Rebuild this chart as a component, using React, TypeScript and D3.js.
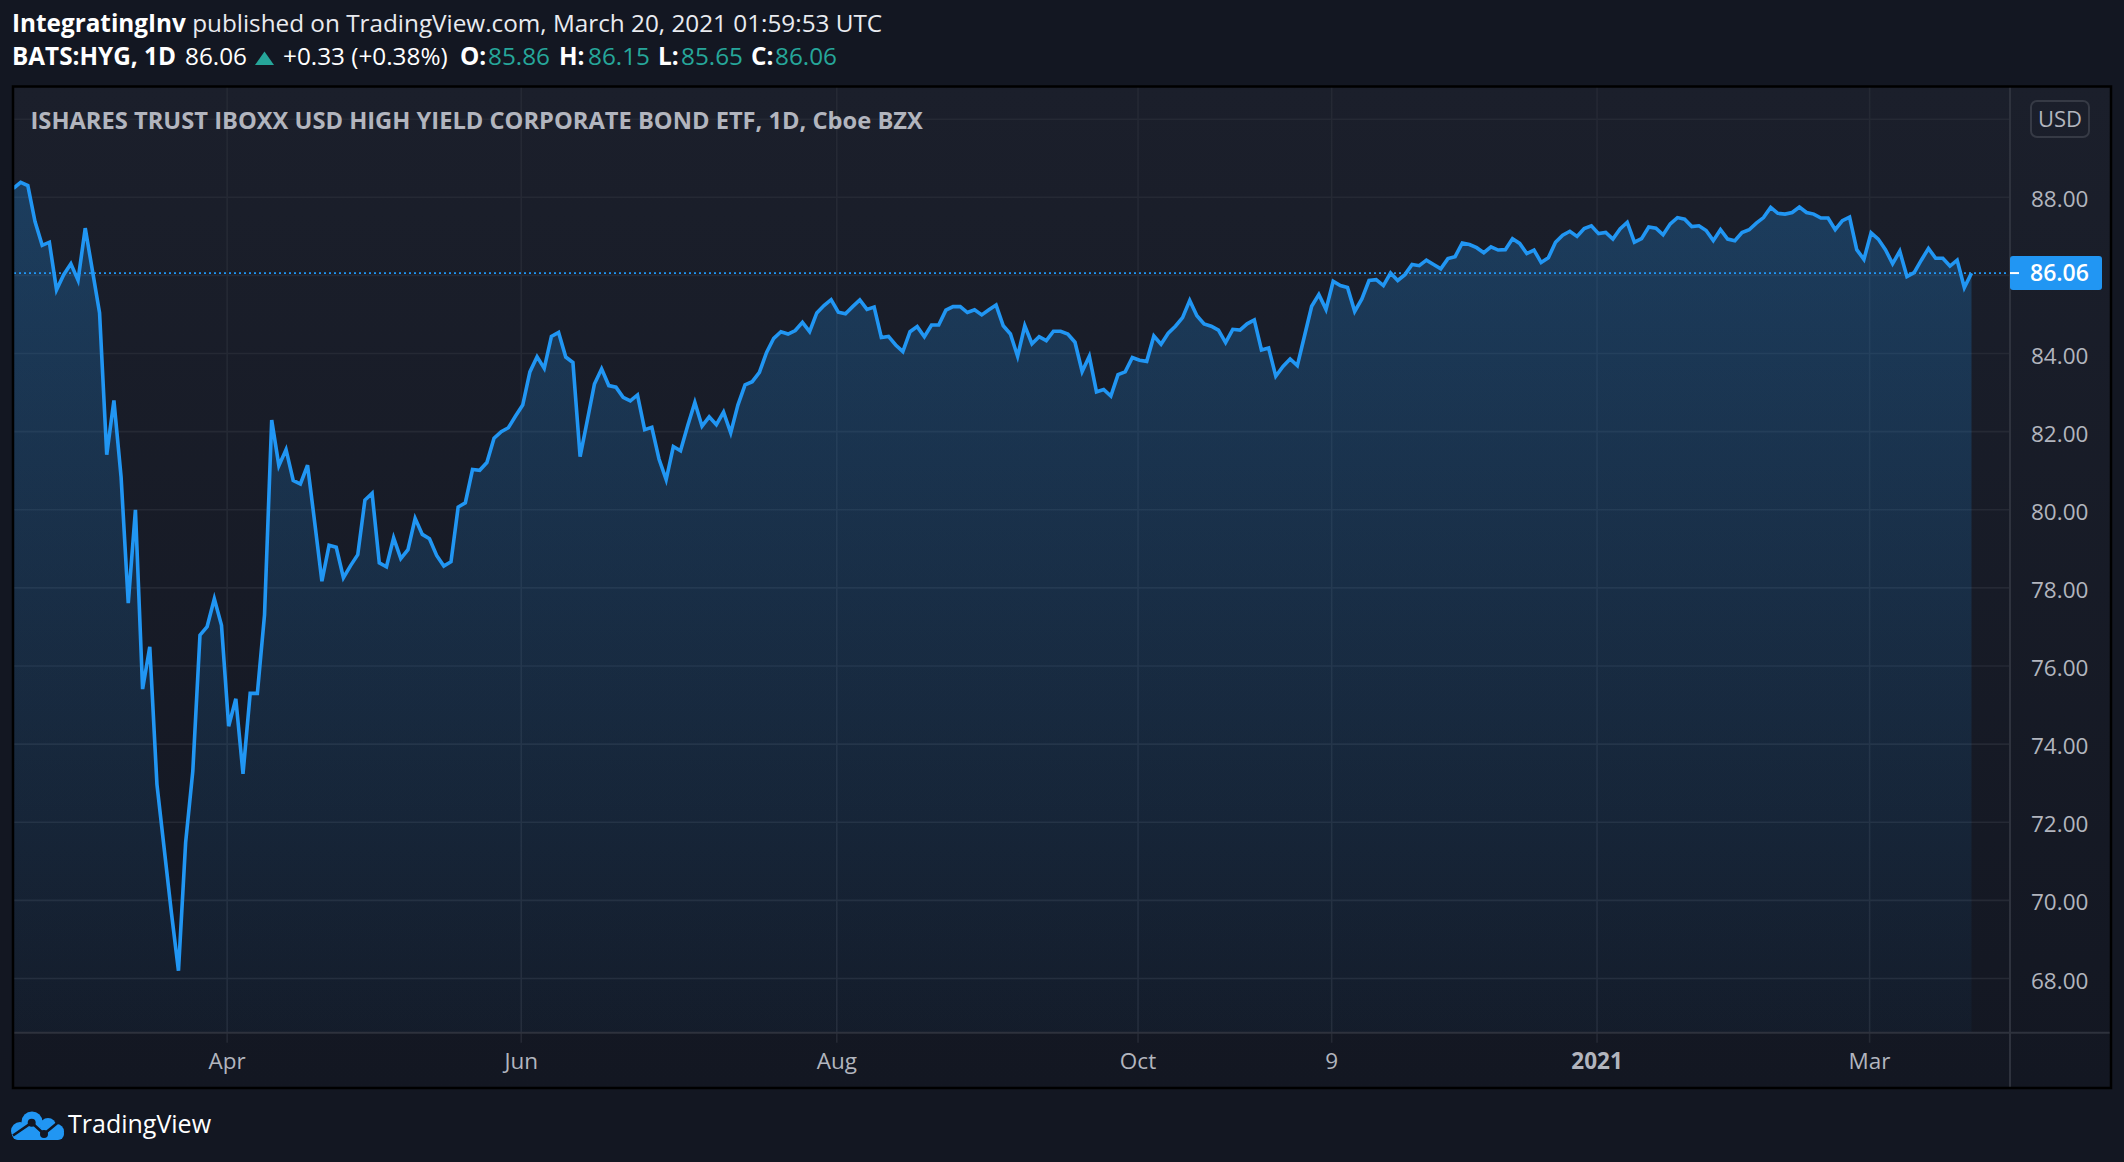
import React from "react";
import * as d3 from "d3";

const W = 2124;
const H = 1162;

// HYG daily closes, Feb 19 2020 .. Mar 19 2021 (trading-day index)
const closes: number[] = [
  88.23, 88.38, 88.30, 87.38, 86.77, 86.85, 85.63, 86.02, 86.30, 85.88,
  87.21, 86.13, 85.04, 81.41, 82.80, 80.84, 77.61, 80.00, 75.41, 76.49,
  72.97, 71.34, 69.71, 68.20, 71.48, 73.31, 76.79, 77.01, 77.72, 77.04,
  74.46, 75.16, 73.24, 75.30, 75.30, 77.31, 82.30, 81.13, 81.54, 80.75,
  80.66, 81.14, 79.67, 78.17, 79.09, 79.04, 78.26, 78.57, 78.85, 80.25,
  80.42, 78.64, 78.54, 79.28, 78.75, 78.98, 79.78, 79.37, 79.26, 78.83,
  78.56, 78.67, 80.07, 80.18, 81.03, 81.01, 81.21, 81.83, 82.00, 82.10,
  82.40, 82.68, 83.53, 83.92, 83.62, 84.44, 84.54, 83.91, 83.77, 81.36,
  82.28, 83.22, 83.61, 83.18, 83.14, 82.88, 82.79, 82.94, 82.05, 82.11,
  81.30, 80.77, 81.62, 81.51, 82.15, 82.75, 82.14, 82.38, 82.18, 82.50,
  81.97, 82.68, 83.20, 83.28, 83.52, 84.03, 84.39, 84.56, 84.50, 84.59,
  84.80, 84.56, 85.04, 85.23, 85.38, 85.06, 85.02, 85.20, 85.37, 85.13,
  85.19, 84.41, 84.44, 84.22, 84.05, 84.56, 84.69, 84.43, 84.73, 84.73,
  85.11, 85.20, 85.20, 85.05, 85.12, 84.99, 85.12, 85.24, 84.71, 84.50,
  83.93, 84.71, 84.25, 84.43, 84.33, 84.57, 84.57, 84.50, 84.29, 83.54,
  83.93, 83.02, 83.08, 82.91, 83.46, 83.53, 83.90, 83.83, 83.80, 84.45,
  84.24, 84.52, 84.70, 84.92, 85.36, 84.97, 84.76, 84.70, 84.60, 84.28,
  84.62, 84.60, 84.76, 84.86, 84.09, 84.14, 83.42, 83.67, 83.86, 83.69,
  84.45, 85.21, 85.51, 85.13, 85.85, 85.74, 85.69, 85.08, 85.40, 85.87,
  85.89, 85.74, 86.06, 85.87, 86.02, 86.28, 86.25, 86.39, 86.28, 86.17,
  86.43, 86.48, 86.83, 86.79, 86.71, 86.58, 86.73, 86.65, 86.66, 86.94,
  86.82, 86.56, 86.65, 86.33, 86.45, 86.85, 87.03, 87.13, 87.00, 87.20,
  87.27, 87.07, 87.10, 86.93, 87.19, 87.36, 86.85, 86.94, 87.24, 87.21,
  87.04, 87.32, 87.48, 87.44, 87.25, 87.27, 87.15, 86.89, 87.17, 86.93,
  86.89, 87.10, 87.17, 87.34, 87.48, 87.74, 87.59, 87.57, 87.61, 87.75,
  87.61, 87.57, 87.47, 87.47, 87.17, 87.40, 87.49, 86.66, 86.41, 87.09,
  86.93, 86.66, 86.30, 86.62, 85.97, 86.07, 86.39, 86.69, 86.44, 86.44,
  86.24, 86.39, 85.69, 86.06,
];

const timeTickLabels = ["Apr", "Jun", "Aug", "Oct", "9", "2021", "Mar"];
const timeTickIndex = [30, 71, 115, 157, 184, 221, 259];
const timeTickBold = [false, false, false, false, false, true, false];

const priceLabels = [68, 70, 72, 74, 76, 78, 80, 82, 84, 88];
const priceGrid = [68, 70, 72, 74, 76, 78, 80, 82, 84, 86, 88, 90];

const lastPrice = 86.06;
const headerAuthor = "IntegratingInv";
const headerRest = " published on TradingView.com, March 20, 2021 01:59:53 UTC";
const symbolLabel = "BATS:HYG, 1D";
const ohlcKeys = ["O:", "H:", "L:", "C:"];
const ohlcVals = ["85.86", "86.15", "85.65", "86.06"];
const changeText = "+0.33 (+0.38%)";
const titleText = "ISHARES TRUST IBOXX USD HIGH YIELD CORPORATE BOND ETF, 1D, Cboe BZX";

const FONT = "'Open Sans', 'DejaVu Sans', sans-serif";
const BLUE = "#2196f3";
const TEAL = "#26a69a";

// header layout (x of each piece on the second line)
const ohlcKeyX = [460, 559, 658, 751];
const ohlcValX = [488, 588, 681, 775];

export default function App() {
  const paneL = 13, paneR = 2111, paneT = 86.5, paneB = 1088;
  const plotR = 2010;
  const plotB = 1032.7;

  const x = d3.scaleLinear().domain([0, closes.length - 1]).range([13.5, 1971.5]);
  const y = d3.scaleLinear().domain([68, 88]).range([978.5, 197.3]);

  const line = d3
    .line<number>()
    .x((_, i) => x(i))
    .y((d) => y(d));
  const area = d3
    .area<number>()
    .x((_, i) => x(i))
    .y0(plotB)
    .y1((d) => y(d));

  const HF = 24.3;

  return (
    <svg
      width={W}
      height={H}
      viewBox={`0 0 ${W} ${H}`}
      style={{ position: "absolute", left: 0, top: 0, display: "block" }}
      fontFamily={FONT}
    >
      <defs>
        <linearGradient id="paneBg" x1="0" y1="0" x2="0" y2="1">
          <stop offset="0" stopColor="#1b1f2b" />
          <stop offset="1" stopColor="#131722" />
        </linearGradient>
        <linearGradient id="areaFill" gradientUnits="userSpaceOnUse" x1="0" y1="140" x2="0" y2={plotB}>
          <stop offset="0" stopColor={BLUE} stopOpacity="0.27" />
          <stop offset="1" stopColor={BLUE} stopOpacity="0.04" />
        </linearGradient>
        <clipPath id="plotClip">
          <rect x={paneL + 1} y={paneT + 1} width={plotR - paneL - 1} height={plotB - paneT - 1} />
        </clipPath>
      </defs>

      <rect x={0} y={0} width={W} height={H} fill="#131722" />

      {/* header */}
      <text x={12} y={31.5} fontSize={HF} fill="#e9ebf0">
        <tspan fontWeight={700} fill="#ffffff">{headerAuthor}</tspan>
        <tspan>{headerRest}</tspan>
      </text>
      <g fontSize={HF} fill="#ffffff">
        <text x={12} y={65} fontWeight={700}>{symbolLabel}</text>
        <text x={185} y={65}>{lastPrice.toFixed(2)}</text>
        <path d="M255,65 L274,65 L264.5,51.5 Z" fill={TEAL} />
        <text x={283} y={65}>{changeText}</text>
        {ohlcKeys.map((k, i) => (
          <React.Fragment key={k}>
            <text x={ohlcKeyX[i]} y={65} fontWeight={700}>{k}</text>
            <text x={ohlcValX[i]} y={65} fill={TEAL}>{ohlcVals[i]}</text>
          </React.Fragment>
        ))}
      </g>

      {/* pane */}
      <rect x={paneL} y={paneT} width={paneR - paneL} height={paneB - paneT} fill="url(#paneBg)" />

      {/* grid */}
      {priceGrid.map((p) => (
        <line key={p} x1={paneL} x2={plotR} y1={y(p)} y2={y(p)} stroke="#252934" strokeWidth={1.6} />
      ))}
      {timeTickIndex.map((ix, i) => (
        <line key={i} x1={x(ix) - 1.5} x2={x(ix) - 1.5} y1={paneT} y2={plotB + 10} stroke="#252934" strokeWidth={1.6} />
      ))}

      {/* area + line */}
      <g clipPath="url(#plotClip)">
        <path d={area(closes) || ""} fill="url(#areaFill)" />
        <path d={line(closes) || ""} fill="none" stroke={BLUE} strokeWidth={3.6} strokeLinejoin="miter" strokeMiterlimit={4} />
      </g>

      {/* last price dotted line */}
      <line
        x1={paneL + 1}
        x2={plotR}
        y1={y(lastPrice)}
        y2={y(lastPrice)}
        stroke={BLUE}
        strokeWidth={1.8}
        strokeDasharray="2 3"
      />

      {/* chart title */}
      <text x={30.5} y={128.5} fontSize={23.7} fontWeight={700} fill="#b2b5be">
        {titleText}
      </text>

      {/* axes lines */}
      <line x1={paneL} x2={paneR} y1={plotB} y2={plotB} stroke="#2e323d" strokeWidth={2} />
      <line x1={plotR} x2={plotR} y1={paneT} y2={paneB} stroke="#2e323d" strokeWidth={2} />

      {/* price labels */}
      {priceLabels.map((p) => (
        <text key={p} x={2031} y={y(p) + 2} dy="0.36em" fontSize={22.5} fill="#b2b5be">
          {p.toFixed(2)}
        </text>
      ))}

      {/* USD box */}
      <rect x={2031} y={101} width={58} height={36} rx={6} fill="none" stroke="#363a45" strokeWidth={2} />
      <text x={2060} y={119} dy="0.36em" textAnchor="middle" fontSize={22} fill="#b2b5be">
        USD
      </text>

      {/* last price label */}
      <rect x={plotR} y={y(lastPrice) - 17} width={92} height={34} rx={3} fill={BLUE} />
      <line x1={plotR} x2={plotR + 9} y1={y(lastPrice)} y2={y(lastPrice)} stroke="#ffffff" strokeWidth={2} />
      <text x={2030} y={y(lastPrice)} dy="0.36em" fontSize={23} fontWeight={600} fill="#ffffff">
        {lastPrice.toFixed(2)}
      </text>

      {/* time labels */}
      {timeTickIndex.map((ix, i) => (
        <text
          key={i}
          x={x(ix) - 1.5}
          y={1061}
          dy="0.36em"
          textAnchor="middle"
          fontSize={22.5}
          fontWeight={timeTickBold[i] ? 700 : 400}
          fill="#b2b5be"
        >
          {timeTickLabels[i]}
        </text>
      ))}

      {/* pane border */}
      <rect x={paneL} y={paneT} width={paneR - paneL} height={paneB - paneT} fill="none" stroke="#000000" strokeWidth={2.5} />

      {/* TradingView logo */}
      <g fill={BLUE}>
        <circle cx={32} cy={1122} r={10.5} />
        <circle cx={48} cy={1126} r={8} />
        <circle cx={56.5} cy={1131.5} r={7.5} />
        <circle cx={20} cy={1131} r={9} />
        <rect x={12} y={1128} width={52} height={12} rx={6} />
      </g>
      <polyline
        points="13,1135.5 31.7,1122.7 44,1134 57,1123.3"
        fill="none"
        stroke="#131722"
        strokeWidth={2.6}
      />
      <circle cx={31.7} cy={1122.7} r={4} fill="#131722" />
      <circle cx={44} cy={1134} r={4} fill="#131722" />
      <text x={68} y={1133} fontSize={25} fill="#ffffff">
        TradingView
      </text>
    </svg>
  );
}
